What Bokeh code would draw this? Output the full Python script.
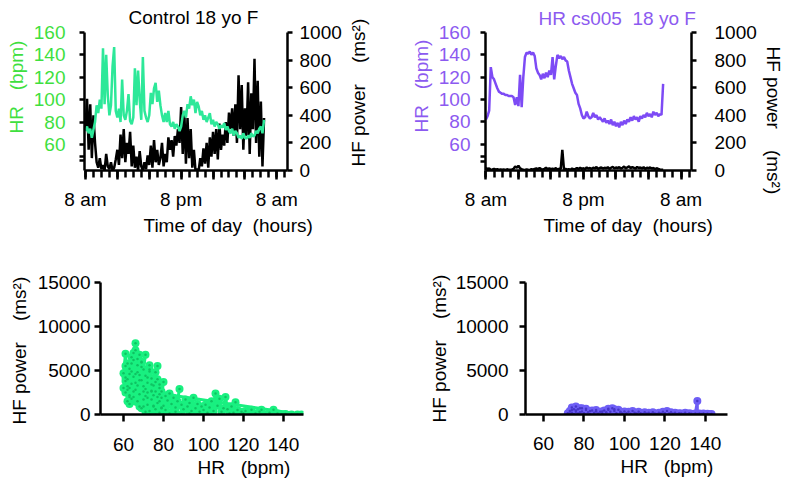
from bokeh.plotting import figure
from bokeh.models import Range1d, LinearAxis, FixedTicker, Title
from bokeh.layouts import row, column
from bokeh.embed import file_html
from bokeh.resources import INLINE

FONT = "Liberation Sans"
GREEN_TXT = "#3fdf3f"
GREEN_LINE = "#2de899"
PURPLE_TXT = "#8c5af0"
PURPLE_LINE = "#7d4bf5"
SC_GREEN = "#19f080"
SC_GREEN_DOT = "#0fc262"
SC_PURPLE = "#6e5ef5"
SC_PURPLE_DOT = "#4636c8"
NB = "\u00a0"

# ---------------- data ----------------
HOURS = [
    0.0, 0.2, 0.4, 0.6, 0.8, 1.0, 1.2, 1.4, 1.6, 1.8,
    2.0, 2.2, 2.4, 2.6, 2.8, 3.0, 3.2, 3.4, 3.6, 3.8,
    4.0, 4.2, 4.4, 4.6, 4.8, 5.0, 5.2, 5.4, 5.6, 5.8,
    6.0, 6.2, 6.4, 6.6, 6.8, 7.0, 7.2, 7.4, 7.6, 7.8,
    8.0, 8.2, 8.4, 8.6, 8.8, 9.0, 9.2, 9.4, 9.6, 9.8,
    10.0, 10.2, 10.4, 10.6, 10.8, 11.0, 11.2, 11.4, 11.6, 11.8,
    12.0, 12.2, 12.4, 12.6, 12.8, 13.0, 13.2, 13.4, 13.6, 13.8,
    14.0, 14.2, 14.4, 14.6, 14.8, 15.0, 15.2, 15.4, 15.6, 15.8,
    16.0, 16.2, 16.4, 16.6, 16.8, 17.0, 17.2, 17.4, 17.6, 17.8,
    18.0, 18.2, 18.4, 18.6, 18.8, 19.0, 19.2, 19.4, 19.6, 19.8,
    20.0, 20.2, 20.4, 20.6, 20.8, 21.0, 21.2, 21.4, 21.6, 21.8,
    22.0, 22.2, 22.4,
]

HR_CONTROL = [
    72, 76, 70, 74, 66, 73,
    80, 95, 88, 100, 92,
    146, 96, 140, 104, 86,
    95, 130, 147, 90, 84,
    92, 80, 118, 86, 82,
    90, 105, 81, 78, 84,
    128, 95, 126, 100, 82,
    138, 90, 84, 80, 86,
    106, 96, 110, 115, 98,
    108, 95, 86, 80, 88,
    80, 90, 78, 76, 80,
    74, 78, 76, 72, 76,
    86, 90, 84, 96, 92,
    103, 95, 100, 88, 98,
    94, 86, 90, 82, 86,
    80, 84, 88, 78, 82,
    76, 80, 78, 74, 77,
    75, 79, 73, 76, 72,
    70, 74, 68, 72, 70,
    66, 68, 65, 70, 66,
    65, 68, 66, 70, 67,
    68, 72, 70, 74, 76,
    70, 82,
]

HF_CONTROL = [
    300, 520, 150, 480, 90, 400,
    200, 60, 20, 90, 10,
    40, 0, 120, 30, 10,
    60, 0, 20, 80, 150,
    40, 260, 90, 300, 60,
    200, 120, 280, 30, 180,
    20, 100, 0, 140, 30,
    0, 60, 10, 110, 40,
    180, 20, 220, 60, 150,
    40, 90, 200, 30, 120,
    60, 240, 150, 220, 100,
    250, 180, 300, 200, 460,
    120, 430, 50, 380, 90,
    300, 20, 150, 0, 10,
    0, 90, 30, 160, 50,
    200, 20, 240, 100, 280,
    120, 300, 80, 340, 150,
    260, 180, 350, 200, 420,
    300, 450, 250, 480, 200,
    690, 300, 620, 150, 450,
    250, 640, 120, 560, 300,
    810, 200, 650, 100, 500,
    30, 380,
]

HR_CASE = [
    82, 85, 90, 129, 120, 118,
    114, 110, 107, 106, 105,
    105, 104, 104, 103, 103,
    103, 102, 95, 102, 94,
    122, 93, 120, 138, 142,
    141, 143, 140, 142, 139,
    128, 124, 122, 118, 123,
    119, 124, 120, 126, 122,
    138, 118, 130, 140, 137,
    139, 136, 138, 135, 134,
    126, 120, 114, 110, 106,
    104, 96, 92, 86, 83,
    84, 89, 85, 83, 84,
    88, 84, 86, 82, 84,
    82, 80, 83, 79, 81,
    78, 82, 77, 80, 76,
    79, 75, 80, 77, 81,
    78, 82, 80, 84, 81,
    85, 82, 84, 80, 85,
    83, 86, 84, 88, 85,
    87, 84, 89, 86, 88,
    85, 87, 86, 114,
]

HF_CASE = [
    20, 10, 15, 5, 8, 12,
    6, 10, 4, 8, 5,
    7, 3, 9, 5, 6,
    8, 12, 30, 20, 35,
    15, 10, 6, 4, 8,
    5, 3, 10, 6, 12,
    15, 8, 18, 10, 6,
    12, 20, 8, 16, 10,
    14, 8, 18, 6, 12,
    10, 150, 8, 12, 6,
    10, 5, 14, 8, 12,
    18, 10, 20, 12, 16,
    10, 22, 14, 18, 12,
    20, 15, 25, 12, 18,
    22, 14, 20, 16, 24,
    12, 20, 26, 15, 22,
    18, 24, 14, 20, 28,
    16, 22, 30, 18, 24,
    20, 14, 26, 18, 22,
    15, 24, 12, 20, 16,
    22, 14, 18, 10, 16,
    12, 8, 6, 5,
]

SC_HR_CONTROL = [
    60, 61, 62, 61, 63, 64, 62, 65, 66, 64, 67, 63, 66, 68, 65, 69, 67, 70, 71, 68,
    70, 72, 73, 71, 74, 72, 75, 73, 76, 77, 74, 78, 76, 79, 77, 80, 78, 81, 79, 82,
    80, 62, 63, 69, 71, 73, 75, 76, 78, 61, 64, 66, 67, 69, 70, 72, 74, 68, 65, 63,
    83, 81, 84, 85, 83, 86, 87, 88, 86, 89, 90, 91, 89, 92, 93, 94, 95, 93, 96, 97,
    98, 99, 97, 100, 101, 102, 103, 104, 105, 106, 104, 107, 108, 109, 110, 111, 112, 113, 114, 116,
    115, 117, 118, 119, 120, 121, 123, 124, 126, 128, 129, 131, 133, 135, 137, 139, 141, 144, 147, 149,
    60, 61, 62, 63, 64, 65, 66, 67, 68, 69, 70, 71, 72, 73, 74, 75, 76, 77, 78, 79,
    61, 62, 63, 64, 65, 66, 67, 68, 69, 70, 71, 72, 73, 74, 75, 76, 77, 78, 79, 80,
]
SC_HF_CONTROL = [
    4700, 6900, 3200, 2500, 5200, 1800, 4000, 6200, 8100, 3500, 5600, 1200, 2800, 6800, 4300, 3900, 1500, 5100, 6800, 2300,
    900, 4200, 5600, 2900, 3400, 1100, 2200, 400, 4800, 5500, 1700, 3000, 600, 2600, 1300, 3700, 200, 2100, 800, 1600,
    0, 1500, 2200, 700, 300, 0, 1000, 0, 1500, 3800, 5800, 4600, 3300, 5400, 2600, 1900, 2700, 900, 2000, 3000,
    2400, 500, 1200, 1900, 100, 800, 1500, 2900, 300, 1100, 600, 1700, 0, 900, 1300, 400, 1900, 100, 700, 1200,
    300, 900, 0, 500, 1100, 200, 800, 1500, 400, 2400, 0, 1000, 1800, 300, 700, 2000, 600, 100, 900, 1400,
    200, 500, 0, 300, 100, 400, 0, 550, 100, 300, 550, 0, 200, 550, 100, 0, 50, 0, 0, 0,
    3000, 4200, 5800, 2000, 4900, 7000, 3600, 6300, 4500, 5900, 3200, 4400, 2500, 5100, 4100, 3300, 2600, 4000, 2300, 1900,
    5500, 2800, 4600, 6500, 2600, 7300, 4800, 3900, 6000, 1700, 2100, 3600, 4900, 2600, 900, 3700, 2000, 3400, 700, 1000,
]

SC_HR_CASE = [
    72, 73, 74, 75, 76, 77, 78, 79, 80, 81, 82, 83, 84, 85, 86, 87, 88, 89, 90, 91,
    92, 93, 94, 95, 96, 97, 98, 99, 100, 101, 102, 103, 104, 105, 106, 107, 108, 109, 110, 111,
    112, 113, 114, 115, 116, 117, 118, 119, 120, 121, 122, 123, 124, 125, 126, 127, 128, 129, 130, 131,
    132, 133, 134, 135, 136, 136, 137, 138, 139, 140, 141, 142, 143, 72, 73, 74, 75, 76, 77, 78,
    74, 76, 79, 81, 83, 86, 89, 92, 95, 98,
]
SC_HF_CASE = [
    150, 400, 200, 600, 300, 100, 700, 350, 150, 500, 250, 50, 450, 200, 350, 100, 300, 150, 450, 250,
    650, 300, 700, 400, 150, 550, 250, 100, 350, 150, 300, 80, 400, 200, 100, 300, 150, 50, 250, 100,
    200, 60, 250, 120, 50, 200, 100, 300, 150, 400, 100, 250, 80, 200, 50, 150, 100, 60, 200, 40,
    150, 80, 30, 100, 1520, 50, 120, 60, 100, 40, 80, 30, 60, 0, 100, 500, 50, 450, 600, 250,
    800, 900, 700, 650, 400, 500, 350, 550, 600, 300,
]

TIME_TICKS = [0, 4, 8, 12, 16, 20, 24]
TIME_LABELS = {0: "8 am", 4: "", 8: "", 12: "8 pm", 16: "", 20: "", 24: "8 am"}
HR_TICKS = [60, 80, 100, 120, 140, 160]
HF_TICKS = [0, 200, 400, 600, 800, 1000]
SC_X_TICKS = [60, 80, 100, 120, 140]
SC_Y_TICKS = [0, 5000, 10000, 15000]

TXT = "19px"
HF_LABEL = "HF power" + NB * 4 + "(ms²)"
HR_LABEL = "HR" + NB * 3 + "(bpm)"
TIME_LABEL = "Time of day" + NB * 2 + "(hours)"


# ---------------- helpers ----------------
def make_fig(w, h, l, r, t, b, xr=None, yr=None, bare=False):
    kw = dict(width=w, height=h, output_backend="svg", toolbar_location=None,
              min_border_left=l, min_border_right=r,
              min_border_top=t, min_border_bottom=b)
    if bare:
        kw.update(x_axis_type=None, y_axis_type=None)
    else:
        kw.update(x_range=xr, y_range=yr)
    p = figure(**kw)
    p.outline_line_color = None
    p.grid.visible = False
    p.background_fill_color = "white"
    p.border_fill_color = "white"
    return p


def style_axis(ax, ticks, tick_out, standoff, color="black", overrides=None, minor=None):
    ax.ticker = FixedTicker(ticks=ticks, minor_ticks=minor or [])
    ax.axis_line_width = 2.5
    ax.axis_line_color = "black"
    ax.major_tick_line_width = 2.5
    ax.major_tick_line_color = "black"
    ax.minor_tick_line_width = 2.5
    ax.minor_tick_line_color = "black"
    ax.major_tick_in = 0
    ax.major_tick_out = tick_out
    ax.minor_tick_in = 0
    ax.minor_tick_out = 7 if minor else 0
    ax.major_label_text_font = FONT
    ax.major_label_text_font_size = TXT
    ax.major_label_text_color = color
    ax.major_label_standoff = standoff
    if overrides:
        ax.major_label_overrides = overrides


def add_title(p, text, place, offset, standoff, color="black"):
    p.add_layout(Title(text=text, align="left", offset=offset, standoff=standoff,
                       text_font=FONT, text_font_size=TXT, text_font_style="normal",
                       text_color=color), place)


# ---------------- top left: control time course ----------------
p1 = make_fig(344, 236, 81, 55, 31, 62, Range1d(-0.12, 25.34), Range1d(36.7, 160))
p1.extra_y_ranges = {"hf": Range1d(0, 1000)}
p1.line(HOURS[:len(HF_CONTROL)], HF_CONTROL, y_range_name="hf", color="black", line_width=2.5)
p1.line(HOURS[:len(HR_CONTROL)], HR_CONTROL, color=GREEN_LINE, line_width=2.5)
style_axis(p1.xaxis[0], TIME_TICKS, 9, 9, overrides=TIME_LABELS, minor=list(range(0, 26)))
style_axis(p1.yaxis[0], HR_TICKS + [46, 49], 5, 14, color=GREEN_TXT, overrides={46: "", 49: ""})
ax_r1 = LinearAxis(y_range_name="hf")
style_axis(ax_r1, HF_TICKS, 5, 7)
p1.add_layout(ax_r1, "right")
add_title(p1, "Control 18 yo F", "above", 44, 9)
add_title(p1, HR_LABEL, "left", 37, 7, GREEN_TXT)
add_title(p1, TIME_LABEL, "below", 59, 1)

# narrow strip holding the control panel's right-hand axis title (reads bottom to top)
p1_label = make_fig(46, 236, 23, 0, 31, 62, bare=True)
add_title(p1_label, HF_LABEL, "left", 4, 2)

# ---------------- top right: case time course ----------------
p2 = make_fig(402, 236, 95, 101, 29, 61, Range1d(-0.05, 25.29), Range1d(36.3, 160))
p2.extra_y_ranges = {"hf": Range1d(0, 1000)}
p2.line(HOURS[:len(HF_CASE)], HF_CASE, y_range_name="hf", color="black", line_width=2.5)
p2.line(HOURS[:len(HR_CASE)], HR_CASE, color=PURPLE_LINE, line_width=2.5)
style_axis(p2.xaxis[0], TIME_TICKS, 9, 9, overrides=TIME_LABELS, minor=list(range(0, 26)))
style_axis(p2.yaxis[0], HR_TICKS + [44, 49], 5, 10, color=PURPLE_TXT, overrides={44: "", 49: ""})
ax_r2 = LinearAxis(y_range_name="hf")
style_axis(ax_r2, HF_TICKS, 5, 18)
p2.add_layout(ax_r2, "right")
add_title(p2, "HR cs005" + NB * 2 + "18 yo F", "above", 53, 7, PURPLE_TXT)
add_title(p2, HR_LABEL, "left", 38, 8, PURPLE_TXT)
add_title(p2, HF_LABEL, "right", 14, 7)
add_title(p2, TIME_LABEL, "below", 58, 1)

# ---------------- bottom left: control scatter ----------------
p3 = make_fig(390, 248, 100, 87, 43, 70, Range1d(48.5, 150), Range1d(0, 15000))
p3.line(SC_HR_CONTROL, SC_HF_CONTROL, color=SC_GREEN, line_width=3)
p3.scatter(SC_HR_CONTROL, SC_HF_CONTROL, size=8, fill_color=SC_GREEN, line_color=None)
p3.scatter(SC_HR_CONTROL, SC_HF_CONTROL, size=2.5, fill_color=SC_GREEN_DOT, line_color=None)
style_axis(p3.xaxis[0], SC_X_TICKS, 7, 16)
style_axis(p3.yaxis[0], SC_Y_TICKS, 6, 4)
add_title(p3, HF_LABEL, "left", -10, 9)
add_title(p3, HR_LABEL, "below", 97, 2)

# ---------------- bottom right: case scatter ----------------
p4 = make_fig(402, 248, 135, 65, 46, 67, Range1d(51.1, 150.9), Range1d(0, 15000))
p4.line(SC_HR_CASE, SC_HF_CASE, color=SC_PURPLE, line_width=3)
p4.scatter(SC_HR_CASE, SC_HF_CASE, size=8, fill_color=SC_PURPLE, line_color=None)
p4.scatter(SC_HR_CASE, SC_HF_CASE, size=2.5, fill_color=SC_PURPLE_DOT, line_color=None)
style_axis(p4.xaxis[0], SC_X_TICKS, 7, 15)
style_axis(p4.yaxis[0], SC_Y_TICKS, 6, 11)
add_title(p4, HF_LABEL, "left", -8, 5)
add_title(p4, HR_LABEL, "below", 95, 2)

layout = column(row(p1, p1_label, p2), row(p3, p4))
open("out.html", "w").write(file_html(layout, INLINE))
